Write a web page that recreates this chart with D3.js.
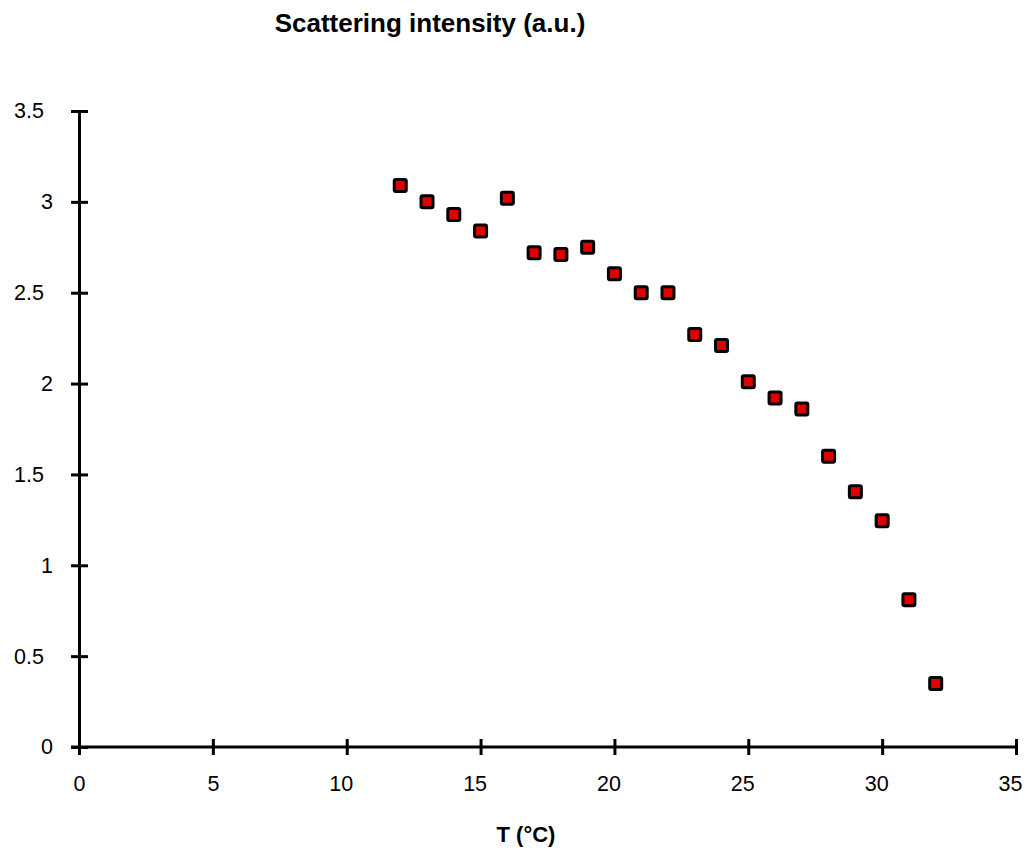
<!DOCTYPE html>
<html><head><meta charset="utf-8">
<script src="https://cdn.jsdelivr.net/npm/d3@7"></script>
<style>body{margin:0;background:#fff}svg{display:block}text{font-family:"Liberation Sans",Arial,sans-serif}</style>
</head><body>
<script>
const temps = [12,13,14,15,16,17,18,19,20,21,22,23,24,25,26,27,28,29,30,31,32];
const intensity = [3.09,3.0,2.93,2.84,3.02,2.72,2.71,2.75,2.605,2.5,2.5,2.27,2.21,2.01,1.92,1.86,1.6,1.405,1.245,0.81,0.35];
const xTicks = [0,5,10,15,20,25,30,35];
const yTicks = [0,0.5,1,1.5,2,2.5,3,3.5];
const yTickLabels = ["0","0.5","1","1.5","2","2.5","3","3.5"];
const title = "Scattering intensity (a.u.)";
const xTitle = "T (°C)";

const W=1026,H=850;
const svg=d3.select("body").append("svg").attr("width",W).attr("height",H);
const x=d3.scaleLinear().domain([0,35]).range([79,1016]);
const y=d3.scaleLinear().domain([0,3.5]).range([747,111]);

const gy=svg.append("g").attr("transform",`translate(${x(0)},0)`)
  .call(d3.axisLeft(y).tickValues(yTicks).tickFormat((d,i)=>yTickLabels[i]).tickSize(0).tickPadding(26));
gy.select(".domain").attr("stroke","#000").attr("stroke-width",3);
gy.selectAll(".tick line").attr("x1",-8).attr("x2",9).attr("stroke","#000").attr("stroke-width",3);
gy.selectAll(".tick text").attr("font-size",21.5).attr("fill","#000")
  .attr("x",(d,i)=>yTickLabels[i].includes(".")?-35:-26)
  .style("font-family","Liberation Sans, Arial, sans-serif");

const gx=svg.append("g").attr("transform",`translate(0,${y(0)})`)
  .call(d3.axisBottom(x).tickValues(xTicks).tickFormat(d3.format("d")).tickSize(0).tickPadding(29));
gx.select(".domain").attr("stroke","#000").attr("stroke-width",3).attr("d",`M${x(0)-8},0H${x(35)}`);
gx.selectAll(".tick line").attr("y1",-8).attr("y2",8).attr("stroke","#000").attr("stroke-width",3);
gx.selectAll(".tick text").attr("font-size",21.5).attr("fill","#000")
  .attr("text-anchor","end").attr("x",6)
  .style("font-family","Liberation Sans, Arial, sans-serif");

svg.append("text").attr("x",430).attr("y",32).attr("text-anchor","middle")
  .attr("font-size",26).attr("font-weight","bold").text(title);
svg.append("text").attr("x",526).attr("y",842).attr("text-anchor","middle")
  .attr("font-size",22).attr("font-weight","bold").text(xTitle);

svg.append("g").selectAll("rect").data(temps).join("rect")
  .attr("x",(d)=>x(d)-6).attr("y",(d,i)=>y(intensity[i])-6)
  .attr("width",12).attr("height",12).attr("rx",1.5)
  .attr("fill","#e00000").attr("stroke","#000").attr("stroke-width",3);
</script>
</body></html>
